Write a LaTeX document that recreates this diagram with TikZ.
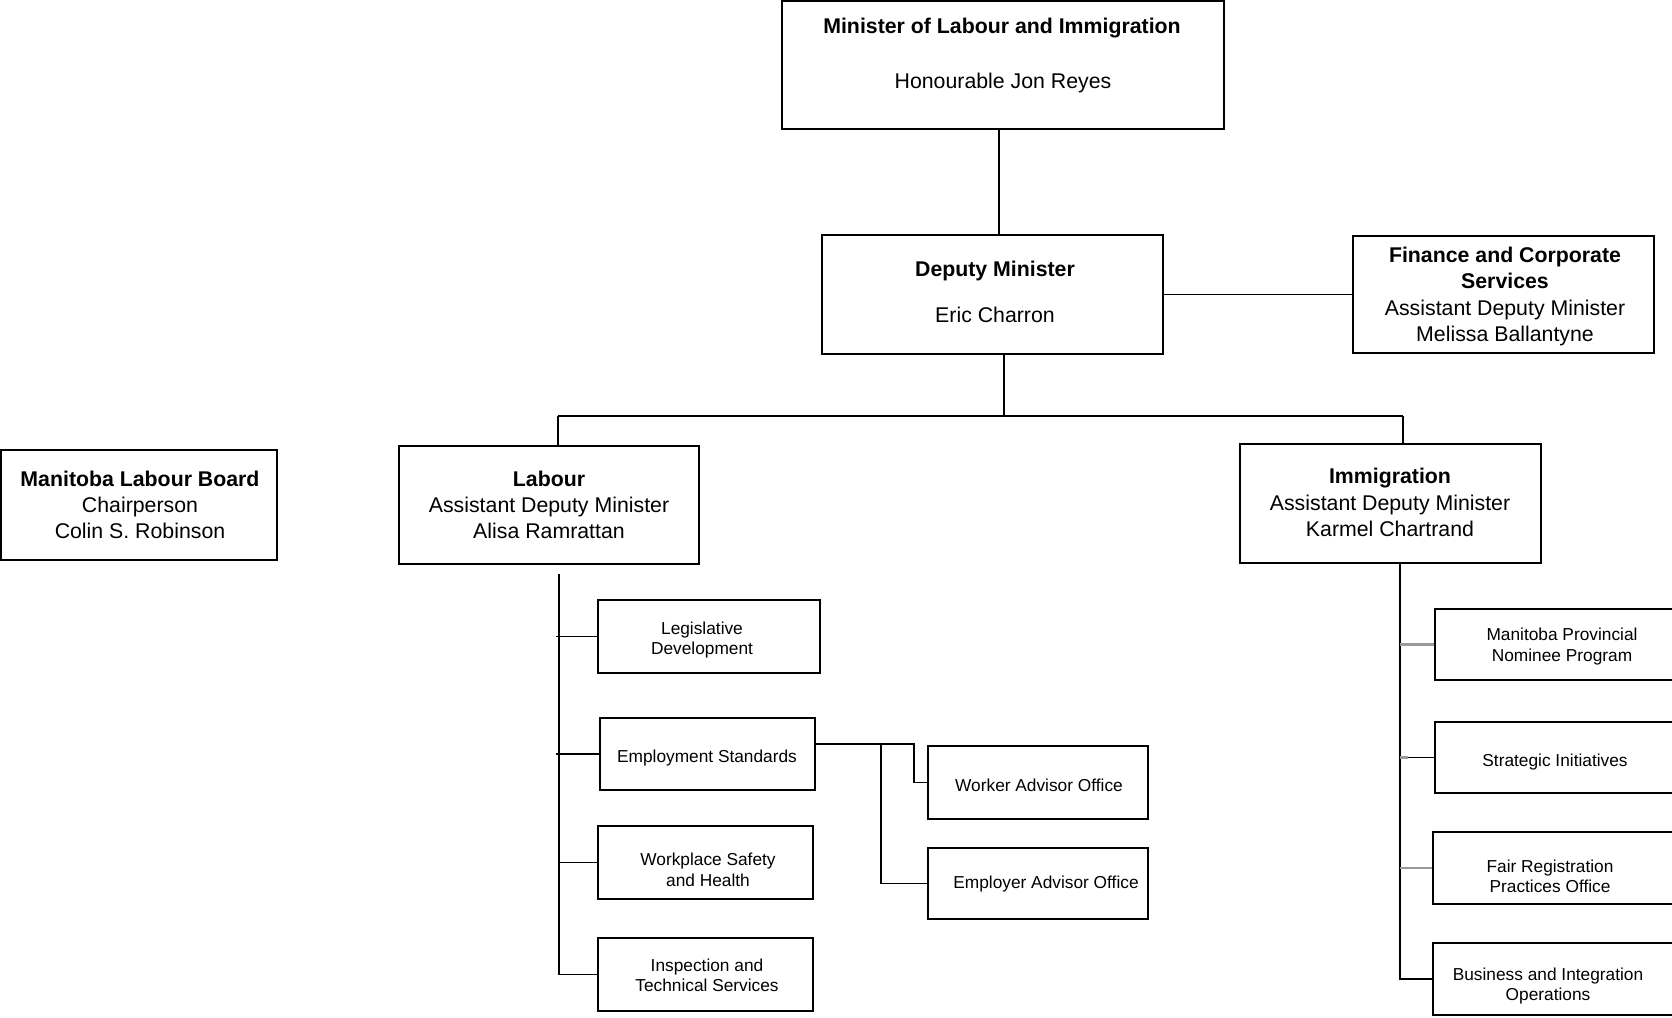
\documentclass[tikz,border=0pt]{standalone}
\usepackage{fontspec}
\setmainfont{Liberation Sans}
\begin{document}
\begin{tikzpicture}[x=1pt,y=-1pt,
  box/.style={draw=black, line width=1.3pt, inner sep=0pt},
  big/.style={font=\fontsize{21.3}{26.3}\selectfont, align=center, inner sep=0pt, yshift=-2.5pt},
  small/.style={font=\fontsize{17.3}{20.4}\selectfont, align=center, inner sep=0pt, yshift=-2.2pt},
  conn/.style={line width=1.3pt, black},
  grayconn/.style={line width=2.2pt, black!40}]
\useasboundingbox (0,0) rectangle (1672,1017);
\clip (0,0) rectangle (1672,1017);
% boxes
\node[box, minimum width=442pt, minimum height=128pt] (minister) at (1003,65) {};
\node[box, minimum width=341pt, minimum height=119pt] (deputy) at (992.5,294.5) {};
\node[box, minimum width=301pt, minimum height=117pt] (finance) at (1503.5,294.5) {};
\node[box, minimum width=276pt, minimum height=110pt] (mlb) at (139,505) {};
\node[box, minimum width=300pt, minimum height=118pt] (labour) at (549,505) {};
\node[box, minimum width=301pt, minimum height=119pt] (immig) at (1390.5,503.5) {};
\node[box, minimum width=222pt, minimum height=73pt] (legis) at (709,636.5) {};
\node[box, minimum width=215pt, minimum height=72pt] (empstd) at (707.5,754) {};
\node[box, minimum width=215pt, minimum height=73pt] (wsh) at (705.5,862.5) {};
\node[box, minimum width=215pt, minimum height=73pt] (its) at (705.5,974.5) {};
\node[box, minimum width=220pt, minimum height=73pt] (worker) at (1038,782.5) {};
\node[box, minimum width=220pt, minimum height=71pt] (employer) at (1038,883.5) {};
\node[box, minimum width=254pt, minimum height=71pt] (mpnp) at (1562,644.5) {};
\node[box, minimum width=254pt, minimum height=71pt] (si) at (1562,757.5) {};
\node[box, minimum width=256pt, minimum height=72pt] (frpo) at (1561,868) {};
\node[box, minimum width=256pt, minimum height=72pt] (bio) at (1561,979) {};
% texts
\node[big] (tminister1) at (1002,26) {\textbf{Minister of Labour and Immigration}};
\node[big] (tminister2) at (1003,80) {Honourable Jon Reyes};
\node[big] (tdeputy1) at (995,268) {\textbf{Deputy Minister}};
\node[big] (tdeputy2) at (995,312) {Eric Charron};
\node[big] (tfinance) at (1505,294) {\textbf{Finance and Corporate}\\\textbf{Services}\\Assistant Deputy Minister\\Melissa Ballantyne};
\node[big] (tmlb) at (140,502.5) {\textbf{Manitoba Labour Board}\\Chairperson\\Colin S. Robinson};
\node[big] (tlabour) at (549,502.5) {\textbf{Labour}\\Assistant Deputy Minister\\Alisa Ramrattan};
\node[big] (timmig) at (1390,500) {\textbf{Immigration}\\Assistant Deputy Minister\\Karmel Chartrand};
\node[small] (tlegis) at (702,638) {Legislative\\Development};
\node[small] (tempstd) at (707,756) {Employment Standards};
\node[small] (twsh) at (708,867.5) {Workplace Safety\\and Health};
\node[small] (tits) at (707,973) {Inspection and\\Technical Services};
\node[small] (tworker) at (1039,783) {Worker Advisor Office};
\node[small] (temployer) at (1046,882) {Employer Advisor Office};
\node[small] (tmpnp) at (1562,644.5) {Manitoba Provincial\\Nominee Program};
\node[small] (tsi) at (1555,760) {Strategic Initiatives};
\node[small] (tfrpo) at (1550,874) {Fair Registration\\Practices Office};
\node[small] (tbio) at (1548,984) {Business and Integration\\Operations};
% junction coordinates
\coordinate (mdrop) at (999,129);
\coordinate (bus) at (1004,416);
\coordinate (busL) at (558,416);
\coordinate (busR) at (1403,416);
\coordinate (ltop) at (559,574);
\coordinate (j1) at (881,744);
\coordinate (j2) at (914,744);
\coordinate (itop) at (1400,563);
% connectors
\draw[conn] (mdrop) -- (mdrop |- deputy.north);
\draw[conn] (finance.west) -- (finance.west -| deputy.east) -- (deputy.north east);
\draw[conn] (bus |- deputy.south) -- (bus);
\draw[conn] (busL) -- (busR);
\draw[conn] (busL) -- (busL |- labour.north);
\draw[conn] (busR) -- (busR |- immig.north);
% labour branch
\draw[conn] (ltop) -- (ltop |- its.west) -- (its.west);
\draw[conn] ([xshift=-3pt]ltop |- legis.west) -- (legis.west);
\draw[conn] ([xshift=-3pt]ltop |- empstd.west) -- (empstd.west);
\draw[conn] (ltop |- wsh.west) -- (wsh.west);
\draw[conn] (empstd.east |- j1) -- (j2) |- (worker.west);
\draw[conn] (j1) |- (employer.west);
% immigration branch
\draw[conn] (itop) -- (itop |- bio.west) -- (bio.west);
\draw[grayconn] (itop |- mpnp.west) -- (mpnp.west);
\draw[grayconn] (itop |- si.west) -- ([xshift=-26pt]si.west);
\draw[conn] ([xshift=-26pt]si.west) -- (si.west);
\draw[grayconn] (itop |- frpo.west) -- (frpo.west);
\end{tikzpicture}
\end{document}
